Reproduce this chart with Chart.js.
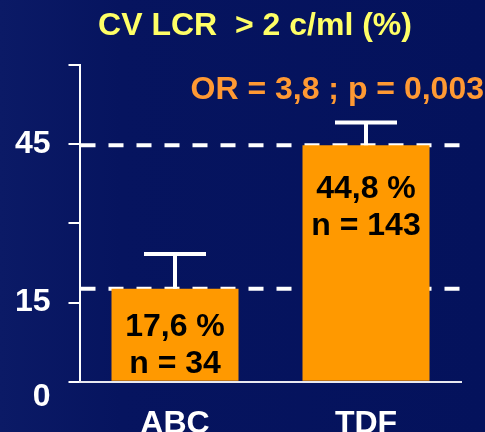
<!DOCTYPE html>
<html>
<head>
<meta charset="utf-8">
<script src="https://cdn.jsdelivr.net/npm/chart.js@4"></script>
<style>
  html, body { margin: 0; padding: 0; background: #06135e; }
</style>
</head>
<body>
<canvas id="myChart" width="485" height="432"></canvas>
<script>
const categories = ["ABC", "TDF"];
const percentages = [17.6, 44.8];
const counts = [34, 143];
const errorUpper = [24.2, 49.1];
const labeledTicks = [0, 15, 45];

const FONT = "'Liberation Sans', Arial, sans-serif";

const extras = {
  id: 'extras',
  beforeDraw(chart) {
    const c = chart.ctx;
    const g = c.createLinearGradient(0, 0, chart.width, 0);
    g.addColorStop(0, '#0b1a66');
    g.addColorStop(0.25, '#06145f');
    g.addColorStop(1, '#04125c');
    c.save();
    c.fillStyle = g;
    c.fillRect(0, 0, chart.width, chart.height);
    c.restore();
  },
  beforeDatasetsDraw(chart) {
    const c = chart.ctx, y = chart.scales.y, area = chart.chartArea;
    c.save();
    c.strokeStyle = '#ffffff';
    c.lineWidth = 4;
    c.setLineDash([15, 13]);
    percentages.forEach(v => {
      const py = y.getPixelForValue(v);
      c.beginPath();
      c.moveTo(area.left + 1, py);
      c.lineTo(area.right - 1.5, py);
      c.stroke();
    });
    c.restore();
  },
  afterDatasetsDraw(chart, args, opts) {
    const c = chart.ctx, y = chart.scales.y;
    const meta = chart.getDatasetMeta(0);
    c.save();
    // error bars
    c.strokeStyle = '#ffffff';
    c.lineWidth = 4;
    meta.data.forEach((bar, i) => {
      const top = y.getPixelForValue(errorUpper[i]);
      c.beginPath();
      c.moveTo(bar.x, bar.y);
      c.lineTo(bar.x, top);
      c.moveTo(bar.x - 31, top);
      c.lineTo(bar.x + 31, top);
      c.stroke();
    });
    // labels inside bars
    c.fillStyle = '#000000';
    c.font = 'bold 32px ' + FONT;
    c.textAlign = 'center';
    c.textBaseline = 'middle';
    meta.data.forEach((bar, i) => {
      const y1 = bar.y + opts.labelOffset[i];
      c.fillText(String(percentages[i]).replace('.', ',') + ' %', bar.x, y1);
      c.fillText('n = ' + counts[i], bar.x, y1 + 37);
    });
    // title and annotation
    c.fillStyle = '#ffff66';
    c.fillText('CV LCR  > 2 c/ml (%)', 255, 26);
    c.fillStyle = '#ff9933';
    c.textAlign = 'right';
    c.fillText('OR = 3,8 ; p = 0,003', 484, 90);
    c.restore();
  }
};

new Chart(document.getElementById('myChart'), {
  type: 'bar',
  data: {
    labels: categories,
    datasets: [{
      data: percentages,
      backgroundColor: '#ff9900',
      borderWidth: 0,
      barPercentage: 0.665,
      categoryPercentage: 1
    }]
  },
  options: {
    responsive: false,
    animation: false,
    devicePixelRatio: 1,
    layout: { padding: { top: 65, left: 0, right: 23.5, bottom: 0 } },
    plugins: {
      legend: { display: false },
      tooltip: { enabled: false },
      extras: { labelOffset: [38, 44] }
    },
    scales: {
      y: {
        min: 0,
        max: 60,
        afterFit(scale) { scale.width = 79.5; },
        ticks: {
          stepSize: 15,
          padding: 18,
          color: '#ffffff',
          font: { family: FONT, size: 32, weight: 'bold', lineHeight: 0.95 },
          callback: v => v === 0 ? ['', '0'] : (labeledTicks.includes(v) ? String(v) : '')
        },
        grid: { drawOnChartArea: false, drawTicks: true, tickLength: 11, color: '#ffffff', lineWidth: 2 },
        border: { display: true, color: '#ffffff', width: 2 }
      },
      x: {
        afterFit(scale) { scale.height = 50.3; },
        ticks: {
          padding: 15,
          color: '#ffffff',
          font: { family: FONT, size: 32, weight: 'bold' }
        },
        grid: { display: false },
        border: { display: true, color: '#e8e8f0', width: 2 }
      }
    }
  },
  plugins: [extras]
});
</script>
</body>
</html>
